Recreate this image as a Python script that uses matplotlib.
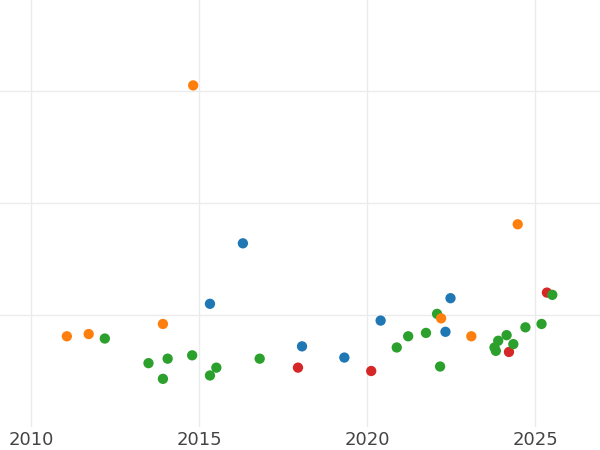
import matplotlib.pyplot as plt

# values (x = decimal year, y = relative value)
blue_x = [2016.30, 2015.32, 2018.06, 2019.32, 2020.40, 2022.33, 2022.48]
blue_y = [1.64, 1.10, 0.72, 0.62, 0.95, 0.85, 1.15]

orange_x = [2011.06, 2011.71, 2013.92, 2014.82, 2022.20, 2023.10, 2024.48]
orange_y = [0.81, 0.83, 0.92, 3.05, 0.97, 0.81, 1.81]

green_x = [2012.19, 2013.49, 2014.06, 2013.92, 2014.79, 2015.32, 2015.51,
           2016.80, 2020.88, 2021.22, 2021.75, 2022.08, 2022.17, 2023.79,
           2023.83, 2023.90, 2024.15, 2024.35, 2024.71, 2025.19, 2025.51]
green_y = [0.79, 0.57, 0.61, 0.43, 0.64, 0.46, 0.53,
           0.61, 0.71, 0.81, 0.84, 1.01, 0.54, 0.71,
           0.68, 0.77, 0.82, 0.74, 0.89, 0.92, 1.18]

red_x = [2017.94, 2020.12, 2024.22, 2025.35]
red_y = [0.53, 0.50, 0.67, 1.20]

series = [(blue_x, blue_y, '#1f77b4'), (orange_x, orange_y, '#ff7f0e'),
          (green_x, green_y, '#2ca02c'), (red_x, red_y, '#d62728')]

# points are drawn in date order
pts = []
for xs, ys, col in series:
    for x, y in zip(xs, ys):
        pts.append((x, y, col))
pts.sort(key=lambda p: p[0])

fig = plt.figure(figsize=(6, 4.5), dpi=100)
ax = fig.add_axes([0, 23 / 450, 1, 427 / 450])

ax.scatter([p[0] for p in pts], [p[1] for p in pts], c=[p[2] for p in pts],
           s=55, linewidths=0, zorder=3)

ax.set_xlim(2009.07, 2026.93)
ax.set_ylim(0, 3.8125)
ax.set_xticks([2010, 2015, 2020, 2025])
ax.set_yticks([1, 2, 3])
ax.set_yticklabels([])
ax.tick_params(length=0, labelsize=13, labelcolor='#444444', pad=3)
ax.grid(True, color='#ebebeb', linewidth=1)
ax.set_axisbelow(True)
for s in ax.spines.values():
    s.set_visible(False)

fig.savefig('out.png', dpi=100)
